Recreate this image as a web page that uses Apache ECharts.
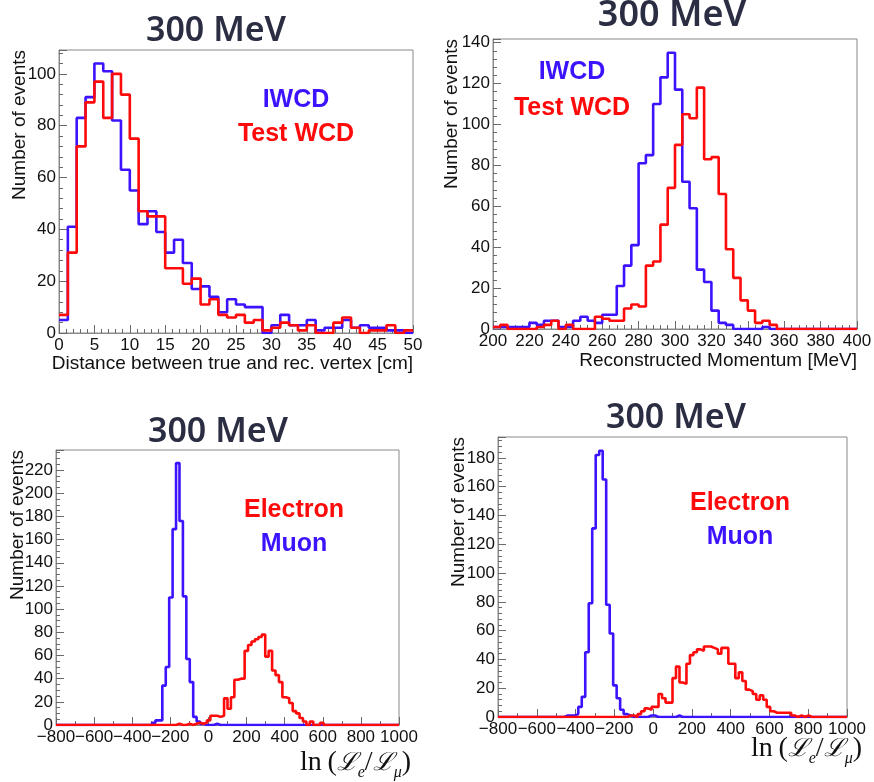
<!DOCTYPE html>
<html><head><meta charset="utf-8">
<script src="https://cdn.jsdelivr.net/npm/echarts@6/dist/echarts.min.js"></script>
<style>html,body{margin:0;padding:0;background:#fff}#c{width:874px;height:782px}</style>
</head><body><div id="c"></div>
<script>
// ---------- DATA ----------
// Panel A: distance between true and reconstructed vertex [cm], 40 bins of 1.25 cm
const vtxBinStart = 0, vtxBinWidth = 1.25;
const vtxIWCD    = [5,41,83,91,104,101,82,63,55,42, 47,39,31,36,27,17,18,14,8,13, 11,10,10,0,3,7,3,3,5,1, 2,2,5,2,3,2,2,1,1,0];
const vtxTestWCD = [7,31,72,89,97,83,100,92,75,47, 45,45,25,25,19,21,11,13,7,6, 7,4,5,1,2,4,3,1,3,0, 0,4,6,2,0,1,1,3,0,1];

// Panel B: reconstructed momentum [MeV], 50 bins of 4 MeV
const momBinStart = 200, momBinWidth = 4;
const momIWCD    = [1,1,1,1,1,3,2,4,4,1, 1,4,6,4,3,7,7,21,31,41, 81,85,110,123,135,117,72,59,29,23, 9,3,2,0,0,0,0,1,0,0, 0,0,0,0,0,0,0,0,0,0];
const momTestWCD = [1,2,0,0,0,0,1,2,4,0, 2,0,0,0,6,5,4,4,10,12, 11,31,33,51,69,90,105,103,118,83, 84,66,39,25,14,9,3,4,2,0, 0,0,0,0,0,0,0,0,0,0];

// Panels C/D: ln(Le/Lmu), 100 bins of 18 from -800
const pidBinStart = -800, pidBinWidth = 18;
const pidAElectron = [
  0,0,0,0,0,0,0,0,0,0, 0,0,0,0,0,0,0,0,0,0, 0,0,0,0,0,0,0,0,0,0,
  0,0,0,0,0,1,0,0,1,0, 1,2,1,2,4,8,8,7,8,23, 14,24,39,40,40,64,69,72,74,76,
  78,59,64,47,43,37,24,23,19,12, 10,6,3,0,3,0,0,2,0,0,
  0,0,0,0,0,0,0,0,0,0, 0,0,0,0,0,0,0,0,0,0];
const pidAMuon = [
  0,0,0,0,0,0,0,0,0,0, 0,0,0,0,0,0,0,0,0,0, 0,0,0,0,0,0,0,0,2,4,
  4,34,50,110,169,226,176,111,57,37, 7,3,1,0,0,0,1,0,0,0, 0,0,0,0,0,0,0,0,0,0,
  0,0,0,0,0,0,0,0,0,0, 0,0,0,0,0,0,0,0,0,0,
  0,0,0,0,0,0,0,0,0,0, 0,0,0,0,0,0,0,0,0,0];
const pidBElectron = [
  0,0,0,0,0,0,0,0,0,0, 0,0,0,0,0,0,0,0,0,0, 0,0,0,0,0,0,0,0,0,0,
  0,0,0,0,0,0,0,1,1,0, 2,4,6,5,7,7,16,13,10,10, 27,35,24,23,37,43,45,47,46,49,
  49,48,47,44,48,48,37,37,27,31, 25,19,18,16,12,15,12,7,4,3,
  3,3,3,3,1,0,1,0,1,0, 0,0,0,0,0,0,0,0,0,0];
const pidBMuon = [
  0,0,0,0,0,0,0,0,0,0, 0,0,0,0,0,0,0,0,0,1, 1,1,2,7,14,45,79,131,182,185,
  165,78,58,22,13,5,2,1,0,0, 0,0,0,1,1,0,0,0,0,0, 0,1,0,0,0,0,0,0,0,0,
  0,0,0,0,0,0,0,0,0,0, 0,0,0,0,0,0,0,0,0,0,
  0,0,0,0,0,0,0,0,0,0, 0,0,0,0,0,0,0,0,0,0];

const panelTitle = '300 MeV';
const yTitle = 'Number of events';
const xTitleVtx = 'Distance between true and rec. vertex [cm]';
const xTitleMom = 'Reconstructed Momentum [MeV]';
const legVtx = ['IWCD', 'Test WCD'];
const legPid = ['Electron', 'Muon'];

// ---------- STYLE / LAYOUT ----------
const BLUE = '#3d12ff', RED = '#ff0a0a';
const FRAME = '#8a8a8a', TICK = '#6a6a6a';
const SANS = '"Liberation Sans", Arial, Helvetica, sans-serif';

function hist(start, width, vals) {
  const d = vals.map((v, i) => [start + i * width, v]);
  d.push([start + vals.length * width, vals[vals.length - 1]]);
  return d;
}
const fmtNum = v => (v < 0 ? '\u2212' + Math.abs(v) : String(v));

const panels = [
  { grid: {left: 59, top: 50, width: 354, height: 283},
    x: {min: 0, max: 50, interval: 5, minor: 1},
    y: {max: 109.2, interval: 20, minor: 4},
    series: [[vtxBinStart, vtxBinWidth, vtxIWCD, BLUE], [vtxBinStart, vtxBinWidth, vtxTestWCD, RED]] },
  { grid: {left: 493, top: 39, width: 364, height: 290},
    x: {min: 200, max: 400, interval: 20, minor: 4},
    y: {max: 141.75, interval: 20, minor: 4},
    series: [[momBinStart, momBinWidth, momIWCD, BLUE], [momBinStart, momBinWidth, momTestWCD, RED]] },
  { grid: {left: 56, top: 450, width: 343, height: 275},
    x: {min: -800, max: 1000, interval: 200, minor: 100},
    y: {max: 237.3, interval: 20, minor: 5},
    series: [[pidBinStart, pidBinWidth, pidAMuon, BLUE], [pidBinStart, pidBinWidth, pidAElectron, RED]] },
  { grid: {left: 498, top: 437, width: 349, height: 280},
    x: {min: -800, max: 1000, interval: 200, minor: 100},
    y: {max: 194.5, interval: 20, minor: 4},
    series: [[pidBinStart, pidBinWidth, pidBMuon, BLUE], [pidBinStart, pidBinWidth, pidBElectron, RED]] }
];

const grids = [], xAxes = [], yAxes = [], series = [];
panels.forEach((p, gi) => {
  grids.push(Object.assign({show: true, borderColor: FRAME, borderWidth: 1, backgroundColor: 'transparent', containLabel: false, outerBoundsMode: 'none'}, p.grid));
  const xi = xAxes.length, yi = yAxes.length;
  // major x axis
  xAxes.push({type: 'value', gridIndex: gi, min: p.x.min, max: p.x.max, interval: p.x.interval, position: 'bottom',
    axisLine: {show: true, onZero: false, lineStyle: {color: FRAME, width: 1}},
    axisTick: {show: true, inside: true, length: 8, lineStyle: {color: TICK, width: 1}},
    splitLine: {show: false},
    axisLabel: {show: true, interval: 0, color: '#111', fontSize: 17, fontFamily: SANS, margin: 4, formatter: fmtNum, hideOverlap: false}});
  // minor x axis
  xAxes.push({type: 'value', gridIndex: gi, min: p.x.min, max: p.x.max, interval: p.x.minor, position: 'bottom',
    axisLine: {show: false, onZero: false}, axisLabel: {show: false}, splitLine: {show: false},
    axisTick: {show: true, inside: true, length: 4, lineStyle: {color: TICK, width: 1}}});
  // major y axis
  yAxes.push({type: 'value', gridIndex: gi, min: 0, max: p.y.max, interval: p.y.interval, position: 'left',
    axisLine: {show: true, onZero: false, lineStyle: {color: FRAME, width: 1}},
    axisTick: {show: true, inside: true, length: 8, lineStyle: {color: TICK, width: 1}},
    splitLine: {show: false},
    axisLabel: {show: true, color: '#111', fontSize: 17, fontFamily: SANS, margin: 3,
      formatter: v => (Math.abs(v % p.y.interval) < 1e-6 ? fmtNum(v) : '')}});
  // minor y axis
  yAxes.push({type: 'value', gridIndex: gi, min: 0, max: p.y.max, interval: p.y.minor, position: 'left', offset: 0,
    axisLine: {show: false, onZero: false}, axisLabel: {show: false}, splitLine: {show: false},
    axisTick: {show: true, inside: true, length: 4, lineStyle: {color: TICK, width: 1}}});
  p.series.forEach(s => {
    series.push({type: 'line', xAxisIndex: xi, yAxisIndex: yi, step: 'end', showSymbol: false, symbol: 'none',
      data: hist(s[0], s[1], s[2]), lineStyle: {color: s[3], width: 2.6}, itemStyle: {color: s[3]},
      clip: true, animation: false, silent: true});
  });
});

// ---------- TEXT ----------
const TITLE_FONT = '"Noto Sans", "Open Sans", sans-serif';
function title(x, y, size) {
  return {type: 'text', x, y, style: {text: panelTitle, fill: '#2b2d42', font: '600 ' + size + 'px ' + TITLE_FONT, textAlign: 'center', textVerticalAlign: 'middle'}};
}
function yName(x, y) {
  return {type: 'text', x, y, rotation: Math.PI / 2, style: {text: yTitle, fill: '#111', font: '19px ' + SANS, textAlign: 'right', textVerticalAlign: 'middle'}};
}
function xName(x, y, t) {
  return {type: 'text', x, y, style: {text: t, fill: '#111', font: '19px ' + SANS, textAlign: 'right', textVerticalAlign: 'middle'}};
}
function leg(x, y, t, c) {
  return {type: 'text', x, y, style: {text: t, fill: c, font: 'bold 25px ' + SANS, textAlign: 'center', textVerticalAlign: 'middle'}};
}
function mathName(x, y) {
  return {type: 'text', x, y, style: {
    text: '{r|ln\u2009(}{l|\u2112}{s|e}{r|/}{l|\u2112}{s|\u03BC}{r|)}',
    textAlign: 'right', textVerticalAlign: 'middle', fill: '#111',
    rich: {
      r: {fontFamily: '"Liberation Serif", "DejaVu Serif", serif', fontSize: 28, lineHeight: 36, fill: '#111'},
      l: {fontFamily: '"DejaVu Serif", serif', fontStyle: 'italic', fontSize: 25, lineHeight: 36, fill: '#111'},
      s: {fontFamily: '"Liberation Serif", serif', fontStyle: 'italic', fontSize: 16, lineHeight: 16, verticalAlign: 'bottom', fill: '#111'}
    }}};
}

const graphics = [
  title(216, 31, 34), title(672, 16, 36), title(218, 432, 34), title(676, 418, 34),
  yName(20, 50), yName(452, 39), yName(18, 450), yName(459, 437),
  xName(413, 364, xTitleVtx), xName(857, 361, xTitleMom),
  mathName(411, 763), mathName(862, 749),
  leg(296, 100, legVtx[0], BLUE), leg(296, 134, legVtx[1], RED),
  leg(572, 72, legVtx[0], BLUE), leg(572, 108, legVtx[1], RED),
  leg(294, 510, legPid[0], RED), leg(294, 544, legPid[1], BLUE),
  leg(740, 503, legPid[0], RED), leg(740, 537, legPid[1], BLUE)
];

const chart = echarts.init(document.getElementById('c'), null, {renderer: 'canvas'});
chart.setOption({
  animation: false,
  backgroundColor: '#ffffff',
  grid: grids, xAxis: xAxes, yAxis: yAxes, series: series,
  graphic: graphics
});
</script>
</body></html>
